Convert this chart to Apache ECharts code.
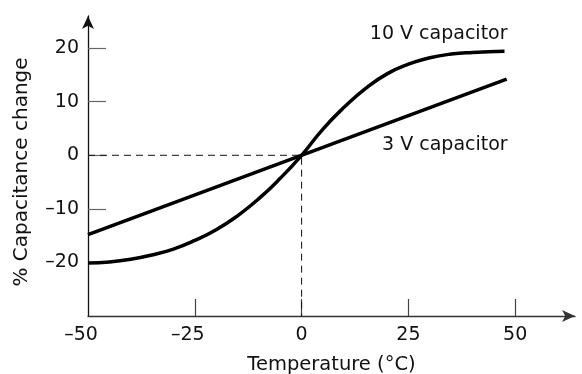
<!DOCTYPE html>
<html lang="en">
<head>
    <meta charset="UTF-8">
    <title>Capacitance vs temperature</title>
    <script src="https://cdn.jsdelivr.net/npm/echarts@6/dist/echarts.min.js"></script>
    <style>
        html, body { margin: 0; padding: 0; background: #fff; }
    </style>
</head>
<body>
    <div id="myCharts" style="width: 582px;height:374px;"></div>

    <script type="text/javascript">
        // 10 V capacitor curve
        var temps10 = [-50, -45, -40, -35, -30, -25, -20, -15, -10, -5, 0, 5, 10, 15, 20, 25, 30, 35, 40, 47.5]
        var cap10 = [-20.1, -19.9, -19.4, -18.6, -17.5, -15.9, -13.9, -11.3, -8.1, -4.3, 0, 4.9, 9.0, 12.5, 15.2, 17.0, 18.2, 18.9, 19.2, 19.4]
        // 3 V capacitor: straight line
        var temps3 = [-50, 48]
        var cap3 = [-14.8, 14.2]
        // dashed guide through the origin
        var guideX = [-50, 0, 0]
        var guideY = [0, 0, -30]
        // ticks
        var xTicks = [-50, -25, 0, 25, 50]
        var yTicks = [-20, -10, 0, 10, 20]

        var font = 'DejaVu Sans'
        var dash = '\u2013'

        function pairs(xs, ys) {
            return xs.map(function (x, i) { return [x, ys[i]] })
        }

        function endLabel(text, offset) {
            return {
                show: true,
                formatter: text,
                position: 'inside',
                align: 'right',
                verticalAlign: 'middle',
                offset: offset,
                color: '#111',
                fontFamily: font,
                fontSize: 19
            }
        }

        var myChart = echarts.init(document.getElementById('myCharts'))

        var data10 = pairs(temps10, cap10)
        data10.push({ value: data10.pop(), label: endLabel('10 V capacitor', [3, -17]) })

        var data3 = pairs(temps3, cap3)
        data3.push({ value: data3.pop(), label: endLabel('3 V capacitor', [1, 66]) })

        var option = {
            animation: false,
            backgroundColor: '#fff',
            grid: {
                left: 88,
                right: 7,
                top: 16,
                bottom: 58,
                outerBoundsMode: 'none'
            },
            xAxis: {
                type: 'value',
                min: -50,
                max: 64,
                name: 'Temperature (\u00b0C)',
                nameLocation: 'middle',
                nameGap: 39,
                nameTextStyle: {
                    color: '#111',
                    fontFamily: font,
                    fontSize: 19.5
                },
                axisLine: {
                    show: true,
                    onZero: false,
                    symbol: ['none', 'arrow'],
                    symbolSize: [9, 13],
                    lineStyle: { color: '#333', width: 1.3 }
                },
                axisTick: {
                    show: true,
                    inside: true,
                    length: 17,
                    customValues: xTicks.slice(1),
                    lineStyle: { color: '#444', width: 1.2 }
                },
                axisLabel: {
                    customValues: xTicks,
                    margin: 10,
                    color: '#111',
                    fontFamily: font,
                    fontSize: 19,
                    formatter: function (v) {
                        // keep the digits centred under the tick, the dash hangs left
                        if (v < 0) return '{n|' + dash + Math.abs(v) + '}{s| }'
                        return String(v)
                    },
                    rich: {
                        n: { color: '#111', fontFamily: font, fontSize: 19 },
                        s: { fontFamily: font, fontSize: 19, width: 14 }
                    }
                },
                splitLine: { show: false }
            },
            yAxis: {
                type: 'value',
                min: -30,
                max: 26,
                name: '% Capacitance change',
                nameLocation: 'middle',
                nameGap: 56,
                nameTextStyle: {
                    color: '#111',
                    fontFamily: font,
                    fontSize: 20,
                    padding: [0, 12, 0, 0]
                },
                axisLine: {
                    show: true,
                    onZero: false,
                    symbol: ['none', 'arrow'],
                    symbolSize: [9, 13],
                    lineStyle: { color: '#111', width: 1.3 }
                },
                axisTick: {
                    show: true,
                    inside: true,
                    length: 18,
                    customValues: yTicks,
                    lineStyle: { color: '#666', width: 1.2 }
                },
                axisLabel: {
                    customValues: yTicks,
                    margin: 9,
                    color: '#111',
                    fontFamily: font,
                    fontSize: 19,
                    formatter: function (v) {
                        return v < 0 ? dash + Math.abs(v) : String(v)
                    }
                },
                splitLine: { show: false }
            },
            series: [
                {
                    name: 'guide',
                    type: 'line',
                    data: pairs(guideX, guideY),
                    symbol: 'none',
                    silent: true,
                    lineStyle: { color: '#111', width: 1, type: [7, 5] },
                    z: 1
                },
                {
                    name: '10 V capacitor',
                    type: 'line',
                    data: data10,
                    smooth: 0.5,
                    symbol: 'circle',
                    symbolSize: 0,
                    showSymbol: true,
                    lineStyle: { color: '#000', width: 3.5 },
                    itemStyle: { color: '#000' },
                    z: 3
                },
                {
                    name: '3 V capacitor',
                    type: 'line',
                    data: data3,
                    symbol: 'circle',
                    symbolSize: 0,
                    showSymbol: true,
                    lineStyle: { color: '#000', width: 3.5 },
                    itemStyle: { color: '#000' },
                    z: 3
                }
            ]
        }

        myChart.setOption(option, true)
    </script>
</body>
</html>
